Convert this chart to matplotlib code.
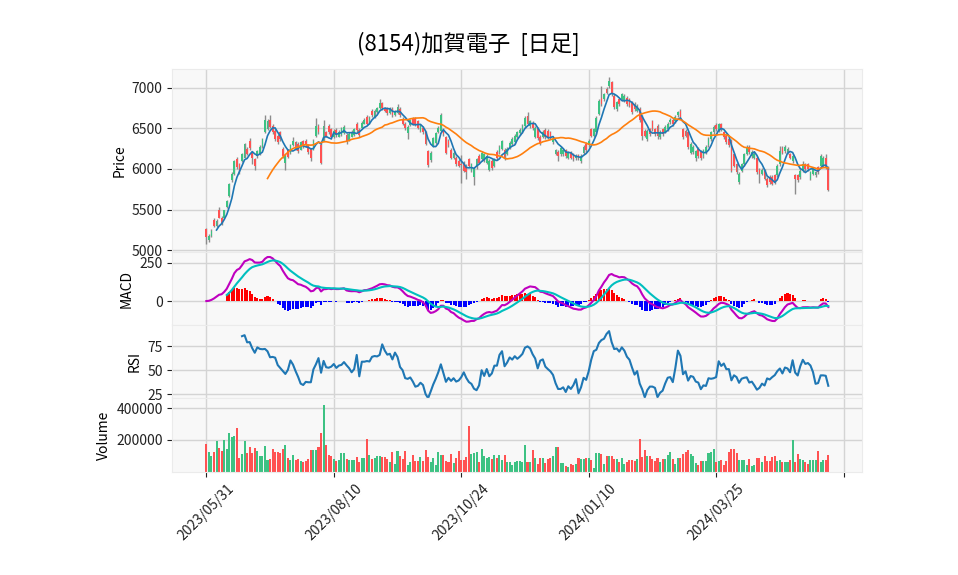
import numpy as np
import pandas as pd
import matplotlib
matplotlib.use("Agg")
import matplotlib.pyplot as plt
from matplotlib.ticker import FuncFormatter

plt.rcParams["font.family"] = ["Noto Sans CJK JP", "DejaVu Sans"]

title = "(8154)加賀電子  [日足]"

# daily bars, 2023/05/31 .. 2024/05
opens = [
    5260, 5120, 5180, 5370, 5300, 5500, 5400, 5400, 5530, 5670,
    5860, 5940, 6120, 6060, 6100, 6140, 6250, 6340, 6200, 6120,
    6160, 6180, 6270, 6450, 6490, 6600, 6530, 6470, 6410, 6450,
    6250, 6080, 6230, 6200, 6290, 6330, 6310, 6240, 6340, 6350,
    6290, 6250, 6240, 6410, 6530, 6300, 6350, 6450, 6530, 6490,
    6390, 6480, 6400, 6420, 6440, 6420, 6350, 6400, 6420, 6560,
    6480, 6510, 6560, 6640, 6560, 6720, 6640, 6700, 6750, 6810,
    6750, 6740, 6690, 6740, 6670, 6690, 6740, 6620, 6560, 6440,
    6540, 6620, 6620, 6590, 6470, 6510, 6450, 6220, 6110, 6280,
    6320, 6450, 6470, 6490, 6390, 6350, 6240, 6130, 6140, 6100,
    6060, 6080, 6040, 6120, 5980, 5900, 6020, 6160, 6120, 6110,
    6080, 5990, 6100, 6040, 6210, 6210, 6250, 6240, 6190, 6270,
    6310, 6330, 6400, 6440, 6460, 6530, 6650, 6530, 6570, 6400,
    6500, 6400, 6400, 6480, 6470, 6450, 6330, 6190, 6210, 6180,
    6180, 6230, 6140, 6200, 6180, 6130, 6170, 6100, 6200, 6310,
    6290, 6490, 6410, 6450, 6680, 6880, 6860, 6990, 7020, 7070,
    6900, 6740, 6860, 6860, 6840, 6880, 6860, 6820, 6800, 6720,
    6740, 6650, 6470, 6370, 6490, 6590, 6490, 6530, 6390, 6490,
    6460, 6490, 6580, 6610, 6590, 6660, 6720, 6490, 6470, 6450,
    6200, 6210, 6140, 6250, 6210, 6160, 6200, 6290, 6370, 6450,
    6540, 6470, 6550, 6450, 6410, 6370, 6350, 6180, 6060, 5840,
    5980, 6060, 6190, 6270, 6160, 6140, 6140, 5990, 5940, 5980,
    5880, 5900, 5900, 5920, 5920, 6060, 6260, 6220, 6210, 6180,
    6100, 5920, 5920, 5900, 5980, 6060, 6060, 5880, 5940, 5920,
    6020, 6040, 6040, 6140, 6020,
]
closes = [
    5160, 5180, 5240, 5300, 5360, 5400, 5330, 5490, 5610, 5820,
    5940, 6100, 6020, 5960, 6180, 6310, 6180, 6260, 6140, 6040,
    6220, 6270, 6370, 6600, 6590, 6520, 6450, 6370, 6330, 6370,
    6160, 6160, 6150, 6290, 6350, 6250, 6220, 6330, 6280, 6290,
    6210, 6130, 6350, 6530, 6450, 6080, 6530, 6410, 6450, 6390,
    6470, 6420, 6460, 6500, 6520, 6330, 6430, 6460, 6490, 6480,
    6420, 6570, 6610, 6560, 6630, 6660, 6720, 6750, 6810, 6750,
    6720, 6690, 6740, 6660, 6710, 6760, 6660, 6560, 6500, 6520,
    6600, 6560, 6550, 6510, 6530, 6450, 6310, 6050, 6200, 6380,
    6440, 6510, 6660, 6430, 6200, 6290, 6140, 6200, 6060, 6040,
    6050, 5980, 5960, 6040, 6060, 6000, 6120, 6080, 6200, 6180,
    6160, 6100, 6010, 6120, 6130, 6270, 6340, 6130, 6250, 6320,
    6370, 6410, 6450, 6480, 6530, 6630, 6560, 6590, 6500, 6510,
    6380, 6310, 6460, 6390, 6390, 6390, 6370, 6230, 6160, 6260,
    6240, 6160, 6200, 6140, 6120, 6160, 6130, 6160, 6270, 6230,
    6350, 6410, 6490, 6630, 6840, 6800, 6920, 6940, 7080, 6920,
    6760, 6820, 6800, 6920, 6900, 6800, 6780, 6700, 6740, 6780,
    6600, 6410, 6410, 6470, 6430, 6490, 6430, 6410, 6460, 6430,
    6520, 6560, 6610, 6550, 6640, 6700, 6640, 6390, 6410, 6270,
    6310, 6270, 6220, 6160, 6130, 6230, 6270, 6370, 6450, 6520,
    6490, 6550, 6490, 6390, 6330, 6290, 5980, 6040, 5960, 5940,
    6060, 6180, 6270, 6210, 6210, 6190, 5960, 5940, 5990, 5880,
    5800, 5840, 5820, 5840, 6040, 6220, 6200, 6270, 6250, 6140,
    6160, 5880, 5860, 5980, 6060, 6000, 6000, 5960, 6000, 5960,
    5960, 6160, 6140, 6020, 5740,
]
highs = [
    5270, 5200, 5260, 5390, 5380, 5530, 5420, 5500, 5620, 5830,
    5960, 6110, 6150, 6080, 6200, 6320, 6270, 6380, 6220, 6140,
    6240, 6290, 6380, 6660, 6620, 6660, 6550, 6490, 6430, 6470,
    6270, 6180, 6250, 6310, 6390, 6350, 6330, 6350, 6360, 6370,
    6310, 6260, 6370, 6630, 6550, 6320, 6610, 6470, 6550, 6510,
    6490, 6500, 6480, 6520, 6540, 6440, 6450, 6480, 6510, 6580,
    6500, 6590, 6630, 6660, 6650, 6740, 6740, 6770, 6860, 6830,
    6770, 6760, 6760, 6760, 6730, 6800, 6760, 6640, 6580, 6540,
    6620, 6640, 6640, 6610, 6550, 6530, 6470, 6240, 6220, 6400,
    6460, 6530, 6690, 6510, 6410, 6370, 6260, 6220, 6160, 6120,
    6170, 6100, 6060, 6140, 6080, 6020, 6140, 6180, 6220, 6200,
    6180, 6120, 6120, 6140, 6230, 6290, 6360, 6260, 6270, 6340,
    6390, 6430, 6470, 6500, 6550, 6650, 6700, 6610, 6590, 6530,
    6520, 6420, 6480, 6500, 6490, 6470, 6390, 6250, 6230, 6280,
    6260, 6250, 6220, 6220, 6200, 6180, 6190, 6180, 6290, 6330,
    6370, 6510, 6510, 6650, 6860, 7020, 6940, 7010, 7130, 7090,
    6920, 6840, 6880, 6940, 6920, 6900, 6880, 6840, 6820, 6800,
    6760, 6670, 6490, 6490, 6510, 6610, 6510, 6550, 6480, 6510,
    6540, 6580, 6630, 6630, 6660, 6720, 6740, 6510, 6490, 6470,
    6330, 6290, 6240, 6270, 6230, 6250, 6290, 6390, 6470, 6540,
    6570, 6570, 6570, 6470, 6430, 6390, 6370, 6200, 6080, 5960,
    6080, 6200, 6290, 6290, 6230, 6210, 6160, 6010, 6010, 6000,
    5900, 5920, 5920, 5940, 6060, 6280, 6280, 6290, 6270, 6200,
    6180, 5940, 5940, 6000, 6100, 6080, 6080, 5980, 6020, 5980,
    6040, 6180, 6160, 6180, 6040,
]
lows = [
    5080, 5100, 5160, 5290, 5280, 5390, 5310, 5390, 5520, 5660,
    5840, 5930, 6000, 5940, 6090, 6130, 6170, 6240, 6060, 5990,
    6140, 6170, 6260, 6440, 6480, 6500, 6430, 6350, 6310, 6350,
    6140, 5990, 6130, 6190, 6280, 6230, 6200, 6230, 6260, 6270,
    6190, 6100, 6230, 6400, 6430, 6060, 6340, 6390, 6430, 6370,
    6380, 6400, 6390, 6410, 6430, 6310, 6340, 6390, 6410, 6460,
    6400, 6500, 6550, 6540, 6550, 6640, 6630, 6690, 6740, 6730,
    6700, 6670, 6680, 6640, 6650, 6680, 6640, 6540, 6480, 6370,
    6530, 6540, 6530, 6490, 6460, 6430, 6290, 6030, 6090, 6270,
    6310, 6440, 6460, 6410, 6180, 6270, 6120, 6120, 6040, 6020,
    5830, 5960, 5880, 6020, 5960, 5800, 6000, 6060, 6100, 6090,
    6060, 5970, 5990, 6020, 6110, 6190, 6230, 6110, 6170, 6250,
    6290, 6310, 6380, 6420, 6440, 6510, 6540, 6510, 6480, 6380,
    6360, 6290, 6380, 6370, 6370, 6370, 6310, 6170, 6100, 6160,
    6160, 6140, 6120, 6120, 6100, 6110, 6110, 6070, 6180, 6210,
    6270, 6390, 6390, 6430, 6660, 6780, 6840, 6920, 7000, 6900,
    6740, 6720, 6780, 6840, 6820, 6780, 6760, 6680, 6720, 6700,
    6580, 6360, 6390, 6350, 6410, 6470, 6410, 6370, 6370, 6410,
    6440, 6470, 6560, 6530, 6570, 6640, 6620, 6370, 6390, 6250,
    6180, 6190, 6100, 6140, 6110, 6140, 6180, 6270, 6350, 6430,
    6470, 6450, 6470, 6370, 6310, 6270, 5960, 6020, 5940, 5820,
    5960, 6040, 6170, 6190, 6140, 6120, 5940, 5830, 5920, 5860,
    5780, 5820, 5800, 5820, 5900, 6040, 6180, 6200, 6190, 6120,
    6080, 5690, 5840, 5880, 5960, 5980, 5980, 5860, 5920, 5900,
    5940, 6020, 6020, 6000, 5730,
]
volumes = [
    175000, 121000, 100000, 121000, 194000, 148000, 131000, 200000, 144000, 244000,
    219000, 225000, 275000, 85000, 112000, 194000, 117000, 154000, 117000, 150000,
    131000, 96000, 100000, 162000, 75000, 79000, 142000, 125000, 121000, 117000,
    142000, 169000, 85000, 75000, 106000, 75000, 79000, 69000, 62000, 69000,
    79000, 137000, 133000, 137000, 156000, 244000, 419000, 169000, 106000, 100000,
    79000, 69000, 75000, 119000, 115000, 79000, 75000, 75000, 75000, 92000,
    58000, 85000, 85000, 204000, 106000, 79000, 85000, 100000, 100000, 90000,
    92000, 79000, 58000, 121000, 50000, 131000, 100000, 79000, 131000, 44000,
    62000, 106000, 65000, 69000, 92000, 69000, 137000, 92000, 62000, 83000,
    42000, 125000, 106000, 106000, 69000, 62000, 112000, 54000, 83000, 131000,
    75000, 75000, 92000, 287000, 112000, 117000, 125000, 62000, 142000, 100000,
    83000, 90000, 79000, 106000, 83000, 106000, 75000, 106000, 62000, 62000,
    42000, 58000, 69000, 65000, 60000, 169000, 58000, 62000, 137000, 85000,
    50000, 85000, 85000, 54000, 79000, 85000, 96000, 154000, 154000, 54000,
    54000, 33000, 29000, 48000, 40000, 50000, 85000, 79000, 79000, 83000,
    85000, 75000, 25000, 117000, 117000, 112000, 50000, 96000, 96000, 96000,
    79000, 79000, 58000, 85000, 50000, 58000, 71000, 71000, 67000, 79000,
    204000, 92000, 137000, 100000, 100000, 79000, 65000, 85000, 58000, 79000,
    79000, 106000, 125000, 79000, 50000, 85000, 85000, 112000, 123000, 137000,
    112000, 100000, 54000, 44000, 65000, 65000, 65000, 117000, 121000, 142000,
    62000, 65000, 71000, 42000, 69000, 125000, 142000, 142000, 117000, 75000,
    75000, 75000, 42000, 79000, 37000, 42000, 87000, 87000, 62000, 100000,
    67000, 67000, 92000, 100000, 67000, 71000, 62000, 62000, 58000, 71000,
    200000, 62000, 112000, 79000, 71000, 58000, 50000, 75000, 71000, 75000,
    131000, 58000, 75000, 75000, 106000,
]
tick_labels = ["2023/05/31", "2023/08/10", "2023/10/24", "2024/01/10", "2024/03/25", ""]

df = pd.DataFrame({"Open": opens, "High": highs, "Low": lows, "Close": closes, "Volume": volumes})
x = np.arange(len(df))

# indicators
df["MA5"] = df["Close"].rolling(5).mean()
df["MA25"] = df["Close"].rolling(25).mean()
ema12 = df["Close"].ewm(span=12, adjust=False).mean()
ema26 = df["Close"].ewm(span=26, adjust=False).mean()
df["MACD"] = ema12 - ema26
df["Signal"] = df["MACD"].ewm(span=9, adjust=False).mean()
df.loc[:7, "Signal"] = np.nan
df["Hist"] = df["MACD"] - df["Signal"]
delta = df["Close"].diff()
gain = delta.clip(lower=0).rolling(14).mean()
loss = (-delta.clip(upper=0)).rolling(14).mean()
df["RSI"] = 100 - 100 / (1 + gain / loss)

UP = "#3dc283"
DOWN = "#ff5252"
up = df["Close"] >= df["Open"]
colors = np.where(up, UP, DOWN)

fig = plt.figure(figsize=(9.58, 5.75), dpi=100)
gs = fig.add_gridspec(4, 1, height_ratios=[2.5, 1, 1, 1], left=0.18, right=0.9,
                      top=0.88, bottom=0.18, hspace=0)
ax1 = fig.add_subplot(gs[0])
ax2 = fig.add_subplot(gs[1], sharex=ax1)
ax3 = fig.add_subplot(gs[2], sharex=ax1)
ax4 = fig.add_subplot(gs[3], sharex=ax1)

for ax in (ax1, ax2, ax3, ax4):
    ax.set_facecolor("#f8f8f8")
    ax.grid(True, color="#d4d4d4", linewidth=1)
    ax.set_axisbelow(True)
    for s in ax.spines.values():
        s.set_color("#ebebeb")
    ax.tick_params(labelsize=10, colors="#222222")

# candles
body = (df["Close"] - df["Open"]).abs().clip(lower=8)
ax1.vlines(x, df["Low"], df["High"], color="#8c8c8c", linewidth=1, zorder=2)
ax1.bar(x, body, bottom=df[["Open", "Close"]].min(axis=1), width=0.7, color=colors, zorder=3)
ax1.plot(x, df["MA5"], color="#1f77b4", linewidth=1.2, zorder=4)
ax1.plot(x, df["MA25"], color="#ff7f0e", linewidth=1.2, zorder=4)
ax1.set_ylabel("Price", fontsize=10)

# MACD
ax2.bar(x, df["Hist"], width=0.8, color=np.where(df["Hist"] >= 0, "red", "blue"), zorder=2)
ax2.plot(x, df["MACD"], color="m", linewidth=1.5, zorder=3)
ax2.plot(x, df["Signal"], color="c", linewidth=1.5, zorder=3)
ax2.set_ylim(-158, 322)
ax2.set_yticks([0, 250])
ax2.set_ylabel("MACD", fontsize=10)

# RSI
ax3.plot(x, df["RSI"], color="#1f77b4", linewidth=1.5)
ax3.set_ylim(20.8, 96.9)
ax3.set_yticks([25, 50, 75])
ax3.set_ylabel("RSI", fontsize=10)

# volume
ax4.bar(x, df["Volume"], width=0.8, color=colors)
ax4.set_ylim(0, 462000)
ax4.set_yticks([200000, 400000])
ax4.yaxis.set_major_formatter(FuncFormatter(lambda v, p: f"{int(v)}"))
ax4.set_ylabel("Volume", fontsize=10)

ax1.set_xlim(-13.3, 257.3)
ax4.set_xticks(np.arange(0, 251, 50))
ax4.set_xticklabels(tick_labels, rotation=45)
for ax in (ax1, ax2, ax3):
    ax.tick_params(axis="x", labelbottom=False, length=0)

fig.text(468 / 958, 0.923, title, ha="center", va="center", fontsize=16)

fig.savefig("out.png", dpi=100)
